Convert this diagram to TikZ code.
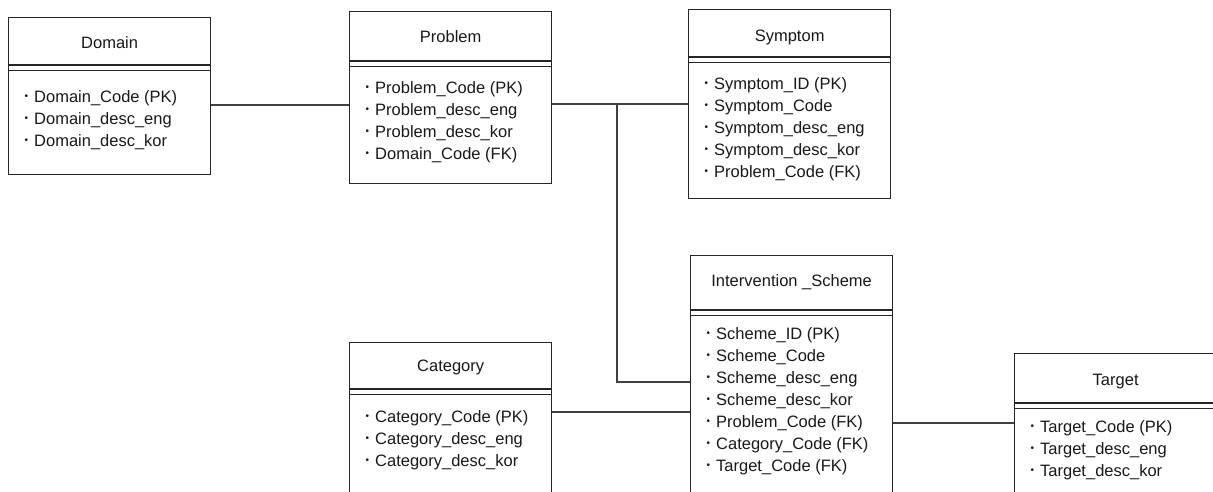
\documentclass[tikz,border=0pt]{standalone}
\usepackage{fontspec}
\setmainfont{Liberation Sans}
\begin{document}
\begin{tikzpicture}[x=1pt,y=-1pt,
  table/.style={draw=black!85, line width=1.3pt, fill=white, anchor=north west,
    inner sep=0pt, minimum width=202pt},
  rule/.style={draw=black!85, line width=1.1pt},
  link/.style={draw=black!75, line width=1.2pt},
  title/.style={inner sep=0pt, text=black!90, font=\fontsize{16.5}{20}\selectfont},
  field/.style={inner sep=0pt, anchor=west, text=black!90, text height=12pt, text depth=3.5pt,
    font=\fontsize{16.5}{20}\selectfont}]
\useasboundingbox (0,0) rectangle (1213,491);
\clip (0,0) rectangle (1213,491);

% header: title plus the double rule under it
\newcommand\tablehead[4]{%
  \node[title] at ([yshift=-#3pt]#1.north) {#2};
  \draw[rule] ([yshift=-#4pt]#1.north west) -- ([yshift=-#4pt]#1.north east);
  \draw[rule] ([yshift=-#4pt-5.5pt]#1.north west) -- ([yshift=-#4pt-5.5pt]#1.north east);}
% attribute rows, 22pt apart
\newcommand\tablerows[3]{%
  \foreach \t [count=\i] in {#3}
    \node[field] at ([xshift=16.5pt,yshift={-(#2+(\i-1)*22)}]#1.north west)
      {\raisebox{3pt}{\fontsize{10}{10}\selectfont\textbullet}\hspace{6pt}\t};}

% tables
\node[table, minimum height=157pt] (domain) at (8,17) {};
\tablehead{domain}{Domain}{26}{48}
\tablerows{domain}{81}{Domain\_Code (PK), Domain\_desc\_eng, Domain\_desc\_kor}

\node[table, minimum height=172pt] (problem) at (349,11) {};
\tablehead{problem}{Problem}{26}{50}
\tablerows{problem}{78}{Problem\_Code (PK), Problem\_desc\_eng, Problem\_desc\_kor, Domain\_Code (FK)}

\node[table, minimum height=189pt] (symptom) at (688,9) {};
\tablehead{symptom}{Symptom}{28}{48}
\tablerows{symptom}{76}{Symptom\_ID (PK), Symptom\_Code, Symptom\_desc\_eng, Symptom\_desc\_kor, Problem\_Code (FK)}

\node[table, minimum height=260pt] (scheme) at (690,255) {};
\tablehead{scheme}{Intervention \_Scheme}{27}{55}
\tablerows{scheme}{80}{Scheme\_ID (PK), Scheme\_Code, Scheme\_desc\_eng, Scheme\_desc\_kor, Problem\_Code (FK), Category\_Code (FK), Target\_Code (FK)}

\node[table, minimum height=180pt] (category) at (349,342) {};
\tablehead{category}{Category}{25}{47}
\tablerows{category}{76}{Category\_Code (PK), Category\_desc\_eng, Category\_desc\_kor}

\node[table, minimum height=170pt] (target) at (1014,353) {};
\tablehead{target}{Target}{29}{50}
\tablerows{target}{75}{Target\_Code (PK), Target\_desc\_eng, Target\_desc\_kor}

% relationship levels
\coordinate (lvdp) at (0,105);
\coordinate (lvps) at (0,104);
\coordinate (lvsc) at (0,382);
\coordinate (lvcs) at (0,412);
\coordinate (lvst) at (0,423);
\coordinate (junction) at (617,104);

% relationships
\draw[link] (domain.east |- lvdp) -- (problem.west |- lvdp);
\draw[link] (problem.east |- lvps) -- (symptom.west |- lvps);
\draw[link] (junction) -- (junction |- lvsc) -- (scheme.west |- lvsc);
\draw[link] (category.east |- lvcs) -- (scheme.west |- lvcs);
\draw[link] (scheme.east |- lvst) -- (target.west |- lvst);
\end{tikzpicture}
\end{document}
